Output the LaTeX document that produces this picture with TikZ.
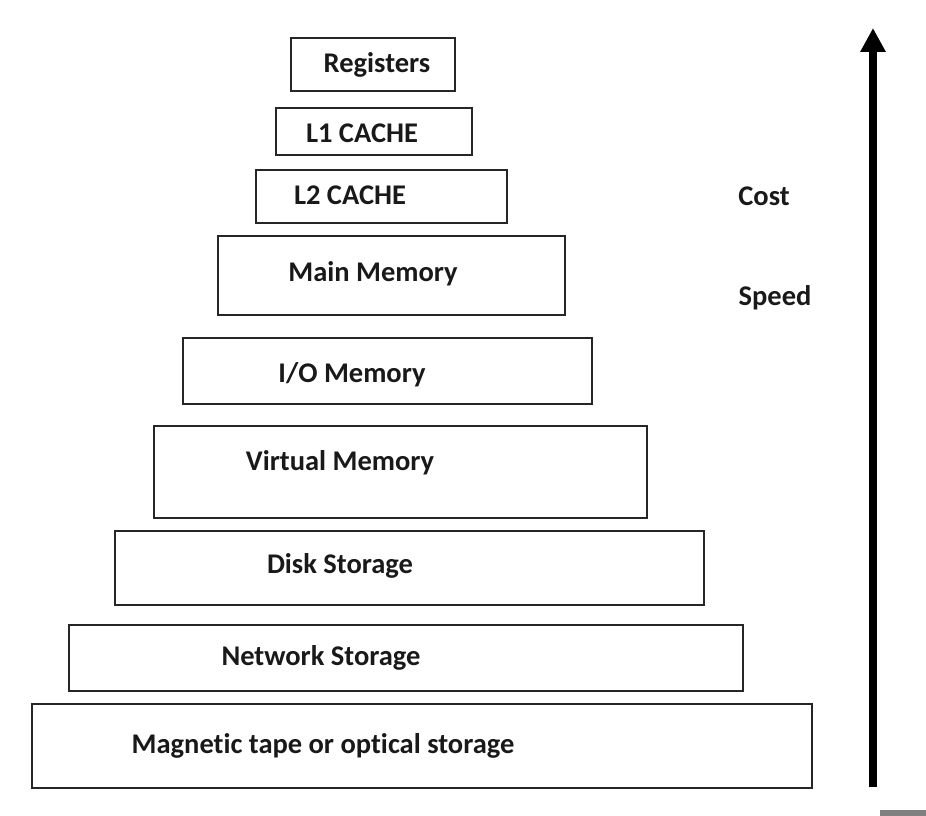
\documentclass[tikz,border=0pt]{standalone}
\usepackage{fontspec}
\setmainfont[Ligatures=NoCommon]{Carlito}
\usetikzlibrary{arrows.meta}
\begin{document}
\begin{tikzpicture}[x=1pt,y=-1pt,
  box/.style={draw=black!85, line width=2pt, inner sep=0pt, fill=none},
  lbl/.style={inner sep=0pt, font=\fontsize{28.5}{32}\selectfont\bfseries, text=black!90},
]
\useasboundingbox (0,0) rectangle (926,816);
% boxes
\node[box, minimum width=164pt, minimum height=53pt] (reg) at (373,64.5) {};
\node[box, minimum width=196pt, minimum height=47pt] (l1) at (374,131.5) {};
\node[box, minimum width=251pt, minimum height=53pt] (l2) at (381.5,196.5) {};
\node[box, minimum width=347pt, minimum height=79pt] (main) at (391.5,275.5) {};
\node[box, minimum width=409pt, minimum height=66pt] (io) at (387.5,371) {};
\node[box, minimum width=493pt, minimum height=92pt] (virt) at (400.5,472) {};
\node[box, minimum width=589pt, minimum height=74pt] (disk) at (409.5,568) {};
\node[box, minimum width=674pt, minimum height=66pt] (net) at (406,658) {};
\node[box, minimum width=780pt, minimum height=84pt] (mag) at (422,746) {};
% labels
\node[lbl] (treg) at (377,65) {Registers};
\node[lbl] (tl1) at (362,133) {L1 CACHE};
\node[lbl] (tl2) at (350,195) {L2 CACHE};
\node[lbl] (tmain) at (373,274) {Main Memory};
\node[lbl] (tio) at (352,375) {I/O Memory};
\node[lbl] (tvirt) at (340,463) {Virtual Memory};
\node[lbl] (tdisk) at (340,566) {Disk Storage};
\node[lbl] (tnet) at (321,658) {Network Storage};
\node[lbl] (tmag) at (323,746) {Magnetic tape or optical storage};
\node[lbl] (cost) at (764,196) {Cost};
\node[lbl] (speed) at (775,298) {Speed};
% arrow
\coordinate (abot) at (873,787);
\coordinate (atop) at (873,28);
\draw[line width=8pt, -{Triangle[length=24pt,width=24pt]}] (abot) -- (atop);
% gray strip
\fill[gray] (880,810) rectangle (926,816);
\end{tikzpicture}
\end{document}
